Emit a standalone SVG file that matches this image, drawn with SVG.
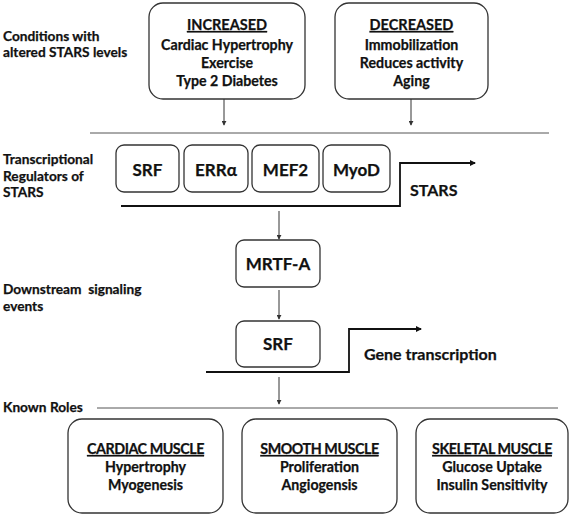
<svg xmlns="http://www.w3.org/2000/svg" width="570" height="516" viewBox="0 0 570 516">
<defs>
<style>
text{font-family:Lato,"Liberation Sans",sans-serif;font-weight:bold;fill:#111;stroke:#111;stroke-width:0.25}
.box{fill:#fff;stroke:#333;stroke-width:1.3}
.lbl{font-size:13.7px}
.ttl{font-size:14.5px;text-anchor:middle;text-decoration:underline}
.ttl2{font-size:14.3px;text-anchor:middle;text-decoration:underline;letter-spacing:-0.45px}
.bd{font-size:14.2px;text-anchor:middle}
.reg{font-size:17px;text-anchor:middle}
.big{font-size:16px}
.sep{stroke:#555;stroke-width:1;fill:none}
.arr{stroke:#333;stroke-width:1;fill:none;marker-end:url(#ah)}
.gene{stroke:#111;stroke-width:1.8;fill:none;marker-end:url(#ah2)}
</style>
<marker id="ah" viewBox="0 0 6 6" refX="5" refY="3" markerWidth="5" markerHeight="5" orient="auto" markerUnits="userSpaceOnUse"><path d="M0,0L6,3L0,6z" fill="#333"/></marker>
<marker id="ah2" viewBox="0 0 6 6" refX="5" refY="3" markerWidth="6" markerHeight="6" orient="auto" markerUnits="userSpaceOnUse"><path d="M0,0L6,3L0,6z" fill="#111"/></marker>
</defs>
<rect width="570" height="516" fill="#fff"/>

<g id="labels">
<text class="lbl" x="3" y="41">Conditions with</text>
<text class="lbl" x="3" y="57">altered STARS levels</text>
<text class="lbl" x="3" y="164">Transcriptional</text>
<text class="lbl" x="3" y="181">Regulators of</text>
<text class="lbl" x="3" y="197">STARS</text>
<text class="lbl" x="3" y="294" xml:space="preserve">Downstream  signaling</text>
<text class="lbl" x="3" y="311">events</text>
<text class="lbl" x="3" y="412">Known Roles</text>
</g>

<g id="increased">
<rect class="box" x="149" y="3" width="156" height="96" rx="14"/>
<text class="ttl" x="227" y="30">INCREASED</text>
<text class="bd" x="227" y="50">Cardiac Hypertrophy</text>
<text class="bd" x="227" y="68">Exercise</text>
<text class="bd" x="227" y="86">Type 2 Diabetes</text>
</g>
<g id="decreased">
<rect class="box" x="335" y="3" width="153" height="96" rx="14"/>
<text class="ttl" x="411.5" y="30">DECREASED</text>
<text class="bd" x="411.5" y="50">Immobilization</text>
<text class="bd" x="411.5" y="68">Reduces activity</text>
<text class="bd" x="411.5" y="86">Aging</text>
</g>

<g id="srf1"><rect class="box" x="116" y="145" width="63" height="47" rx="8"/><text class="reg" x="147.5" y="176">SRF</text></g>
<g id="erra"><rect class="box" x="184" y="145" width="64" height="47" rx="8"/><text class="reg" x="216" y="176">ERRα</text></g>
<g id="mef2"><rect class="box" x="252" y="145" width="67" height="47" rx="8"/><text class="reg" x="285.5" y="176">MEF2</text></g>
<g id="myod"><rect class="box" x="323" y="145" width="67" height="47" rx="8"/><text class="reg" x="356.5" y="176">MyoD</text></g>
<g id="stars"><text class="big" x="410" y="196">STARS</text></g>

<g id="mrtfa"><rect class="box" x="236" y="240" width="84" height="47" rx="8"/><text class="reg" x="278" y="270">MRTF-A</text></g>
<g id="srf2"><rect class="box" x="236" y="321" width="84" height="46" rx="8"/><text class="reg" x="278" y="350">SRF</text></g>
<g id="gene"><text class="big" x="364" y="360">Gene transcription</text></g>

<g id="cardiac">
<rect class="box" x="68" y="419" width="155" height="94" rx="14"/>
<text class="ttl2" x="145.5" y="454">CARDIAC MUSCLE</text>
<text class="bd" x="145.5" y="472">Hypertrophy</text>
<text class="bd" x="145.5" y="490">Myogenesis</text>
</g>
<g id="smooth">
<rect class="box" x="242" y="419" width="155" height="94" rx="14"/>
<text class="ttl2" x="319.5" y="454">SMOOTH MUSCLE</text>
<text class="bd" x="319.5" y="472">Proliferation</text>
<text class="bd" x="319.5" y="490">Angiogensis</text>
</g>
<g id="skeletal">
<rect class="box" x="416" y="419" width="152" height="94" rx="14"/>
<text class="ttl2" x="492" y="454">SKELETAL MUSCLE</text>
<text class="bd" x="492" y="472">Glucose Uptake</text>
<text class="bd" x="492" y="490">Insulin Sensitivity</text>
</g>

<g id="connectors">
<line class="sep" x1="90" y1="133" x2="549" y2="133"/>
<line class="sep" x1="97" y1="408" x2="558" y2="408"/>
<line class="arr" x1="224" y1="99" x2="224" y2="125"/>
<line class="arr" x1="411" y1="99" x2="411" y2="125"/>
<path class="gene" d="M121,206H400V163H475"/>
<line class="arr" x1="279" y1="211" x2="279" y2="239"/>
<line class="arr" x1="279" y1="290" x2="279" y2="319"/>
<path class="gene" d="M206,372H349V329H421"/>
<line class="arr" x1="279" y1="377" x2="279" y2="404"/>
</g>
</svg>
